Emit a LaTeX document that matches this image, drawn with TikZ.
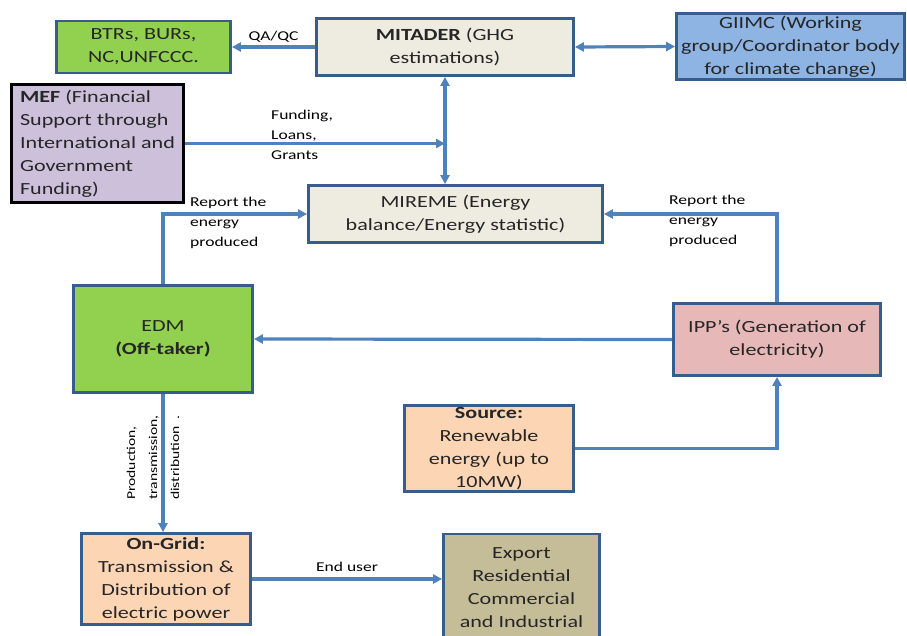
\documentclass[tikz,border=0pt]{standalone}
\usepackage{fontspec}
\setmainfont[FakeStretch=1.3]{Carlito}
\usepackage{xcolor}
\usetikzlibrary{positioning,calc,arrows.meta}
\definecolor{edge}{HTML}{385D8A}
\definecolor{flow}{HTML}{4F81BD}
\definecolor{leaf}{HTML}{92D050}
\definecolor{paper}{HTML}{EEECE1}
\definecolor{sky}{HTML}{8DB4E2}
\definecolor{lilac}{HTML}{CCC0DA}
\definecolor{rose}{HTML}{E6B9B8}
\definecolor{peach}{HTML}{FCD5B5}
\definecolor{khaki}{HTML}{C4BD97}

\begin{document}
\begin{tikzpicture}[x=1pt, y=-1pt,
    box/.style={draw=edge, line width=2.8pt, align=center, inner sep=2pt,
        text=black!85, font=\fontsize{17}{23}\selectfont},
    flowline/.style={draw=flow, line width=3.2pt, -{Triangle[length=9pt,width=9pt]}},
    flowboth/.style={flowline, {Triangle[length=9pt,width=9pt]}-{Triangle[length=9pt,width=9pt]}},
    lbl/.style={inner sep=0pt, align=left, font=\fontsize{13.5}{20}\selectfont}]
    \clip (0,0) rectangle (907,635);

    \node [box, fill=paper, minimum width=257, minimum height=57] (mitader) at (445,47) {\textbf{MITADER} (GHG\\estimations)};
    \node [box, fill=leaf, minimum width=174, minimum height=52] (btr) at (143.5,47) {BTRs, BURs,\\NC,UNFCCC.};
    \node [box, fill=sky, minimum width=228, minimum height=64] (giimc) at (790.5,46.5) {GIIMC (Working\\group/Coordinator body\\for climate change)};
    \node [box, fill=lilac, draw=black, line width=3.8pt, align=left, minimum width=172, minimum height=118] (mef) at (97.5,143.5) {\textbf{MEF} (Financial\\Support through\\International and\\Government\\Funding)};
    \node [box, fill=paper, minimum width=294, minimum height=57] (mireme) at (455.5,214) {MIREME (Energy\\balance/Energy statistic)};
    \node [box, fill=leaf, minimum width=179, minimum height=107] (edm) at (163,339) {EDM\\\textbf{(Off-taker)}};
    \node [box, fill=rose, minimum width=207, minimum height=72] (ipp) at (777,339.5) {IPP’s (Generation of\\electricity)};
    \node [box, fill=peach, minimum width=169, minimum height=84] (source) at (489,448.5) {\textbf{Source:}\\Renewable\\energy (up to\\10MW)};
    \node [box, fill=peach, minimum width=169, minimum height=91] (ongrid) at (166,579) {\textbf{On-Grid:}\\Transmission \&\\Distribution of\\electric power};
    \node [box, fill=khaki, minimum width=156, minimum height=108] (export) at (521.5,588) {Export\\Residential\\Commercial\\and Industrial};

    \node [lbl, anchor=west] (fund) at (271,135) {Funding,\\Loans,\\Grants};
    \node [lbl, anchor=west] (repl) at (190,223) {Report the\\energy\\produced};
    \node [lbl, anchor=west] (repr) at (669,221) {Report the\\energy\\produced};
    \node [lbl, anchor=west, rotate=90, font=\fontsize{12}{22}\selectfont] (chain) at (153,500) {Production,\\transmission,\\distribution\ \ .};

    \draw [flowline] (mitader.west) -- node [lbl, above=3pt] (qa) {QA/QC} (btr.east);
    \draw [flowboth] (mitader.east) -- (giimc.west);
    \draw [flowboth] (mitader.south) -- (mitader.south |- mireme.north);
    \draw [flowline] (mef.east) -- (mef.east -| mitader.south);
    \draw [flowline] (edm.north) |- (mireme.west);
    \draw [flowline] (ipp.north) |- (mireme.east);
    \draw [flowline] (ipp.west) -- (edm.east);
    \draw [flowline] (source.east) -| (ipp.south);
    \draw [flowline] (edm.south) -- (edm.south |- ongrid.north);
    \draw [flowline] (ongrid.east) -- node [lbl, above=6pt] (user) {End user} (ongrid.east -| export.west);
\end{tikzpicture}
\end{document}
